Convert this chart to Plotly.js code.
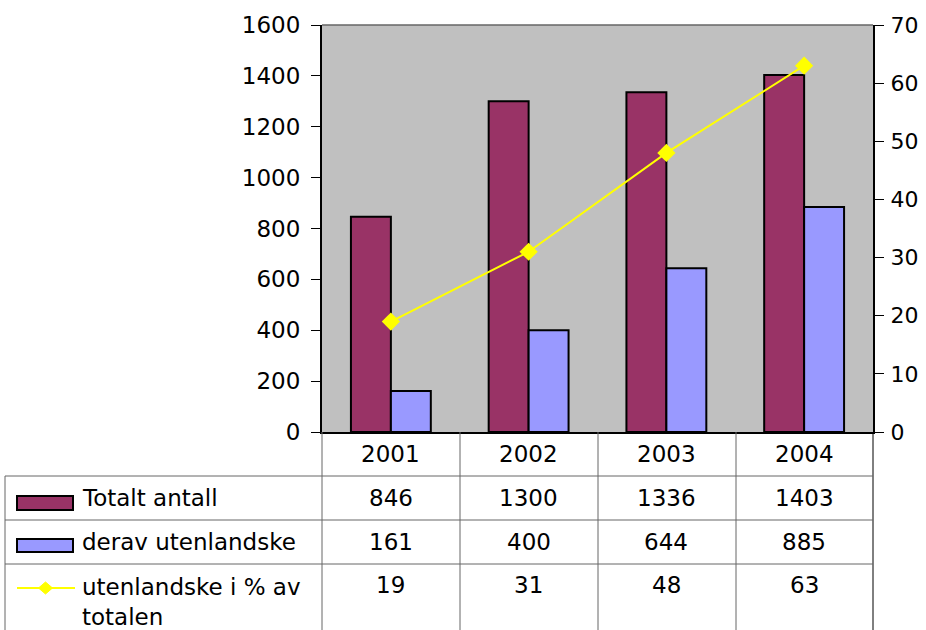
<!DOCTYPE html>
<html><head><meta charset="utf-8">
<script src="https://cdn.plot.ly/plotly-3.0.1.min.js"></script>
<style>html,body{margin:0;padding:0;background:#fff}#chart{width:926px;height:630px}</style>
</head><body><div id="chart"></div>
<script>
const years = ['2001','2002','2003','2004'];
const totalt = [846, 1300, 1336, 1403];
const utenlandske = [161, 400, 644, 885];
const prosent = [19, 31, 48, 63];
const seriesNames = ['Totalt antall', 'derav utenlandske', 'utenlandske i % av<br>totalen'];
const leftTicks = [0,200,400,600,800,1000,1200,1400,1600];
const rightTicks = [0,10,20,30,40,50,60,70];

const L = 322, R = 873, T = 25, B = 432, W = 926, H = 630;
const px = p => (p - L) / (R - L);
const py = p => (B - p) / (B - T);
const FONT = 'DejaVu Sans, Liberation Sans, Arial, sans-serif';
const GRID = '#666';

const traces = [
  {type:'bar', x: years, y: totalt, name: seriesNames[0], marker:{color:'#993366', line:{color:'#000', width:2}}},
  {type:'bar', x: years, y: utenlandske, name: seriesNames[1], marker:{color:'#9999FF', line:{color:'#000', width:2}}},
  {type:'scatter', mode:'lines+markers', x: years, y: prosent, yaxis:'y2', name: seriesNames[2],
   line:{color:'#FFFF00', width:2}, marker:{symbol:'diamond', size:14, color:'#FFFF00'}}
];

const shapes = [];
const line = (x0,y0,x1,y1,color,w) => shapes.push({type:'line', xref:'paper', yref:'paper', x0:px(x0), y0:py(y0), x1:px(x1), y1:py(y1), line:{color:color||GRID, width:w||1}});
// plot top border
line(L, T, R, T, '#666', 1.5);
// table grid
const colX = [322, 460, 598, 736, 873];
colX.forEach((x,i) => line(x, B, x, H, i===4 ? '#000' : GRID, 1));
line(5, 476, R, 476, GRID, 1);
line(5, 520, R, 520, GRID, 1);
line(5, 564, R, 564, GRID, 1);
line(5, 476, 5, H, GRID, 1);
// legend keys
shapes.push({type:'rect', xref:'paper', yref:'paper', x0:px(17), x1:px(73), y0:py(496), y1:py(510), fillcolor:'#993366', line:{color:'#000', width:2}});
shapes.push({type:'rect', xref:'paper', yref:'paper', x0:px(17), x1:px(73), y0:py(539), y1:py(552), fillcolor:'#9999FF', line:{color:'#000', width:2}});
line(17, 588, 75, 588, '#FFFF00', 2);
shapes.push({type:'path', xref:'paper', yref:'paper',
  path:`M ${px(38.5)} ${py(588)} L ${px(45.5)} ${py(582)} L ${px(52.5)} ${py(588)} L ${px(45.5)} ${py(594)} Z`,
  fillcolor:'#FFFF00', line:{color:'#FFFF00', width:1}});

const annotations = [];
const FS = 23;
const txt = (x, xref, y, text, anchor) => annotations.push({x:x, xref:xref, y:py(y), yref:'paper', text:text, showarrow:false, xanchor:anchor||'center', yanchor:'middle', font:{family:FONT, size:FS, color:'#000'}});
years.forEach((yr,i) => {
  txt(i, 'x', 454, yr);
  txt(i, 'x', 498, String(totalt[i]));
  txt(i, 'x', 542, String(utenlandske[i]));
  txt(i, 'x', 585, String(prosent[i]));
});
txt(px(80), 'paper', 498, seriesNames[0], 'left');
txt(px(80), 'paper', 542, seriesNames[1], 'left');
annotations.push({x:px(80), xref:'paper', y:py(572), yref:'paper', text:seriesNames[2], showarrow:false, xanchor:'left', yanchor:'top', align:'left', font:{family:FONT, size:FS, color:'#000'}});

const layout = {
  width: W, height: H,
  margin: {l: L, r: W - R, t: T, b: H - B, pad: 0},
  paper_bgcolor: '#fff', plot_bgcolor: '#C0C0C0',
  showlegend: false,
  barmode: 'group', bargap: 0.42, bargroupgap: 0,
  font: {family: FONT, size: FS, color: '#000'},
  xaxis: {type:'category', range:[-0.5, 3.5], showticklabels:false, ticks:'', showline:true, linecolor:'#000', linewidth:2, showgrid:false, zeroline:false, fixedrange:true},
  yaxis: {range:[0,1600], tickvals:leftTicks, ticktext:leftTicks.map(String), ticks:'outside', ticklen:9, tickcolor:'#000', tickwidth:1, ticklabelstandoff:6,
    showline:true, linecolor:'#000', linewidth:2, showgrid:false, zeroline:false, tickfont:{family:FONT, size:FS}},
  yaxis2: {range:[0,70], tickvals:rightTicks, ticktext:rightTicks.map(String), overlaying:'y', side:'right', ticks:'outside', ticklen:9, tickcolor:'#000', ticklabelstandoff:2,
    showline:true, linecolor:'#000', linewidth:2, showgrid:false, zeroline:false, tickfont:{family:FONT, size:22}},
  shapes: shapes,
  annotations: annotations
};
Plotly.newPlot('chart', traces, layout, {displayModeBar:false, staticPlot:true});
</script></body></html>
